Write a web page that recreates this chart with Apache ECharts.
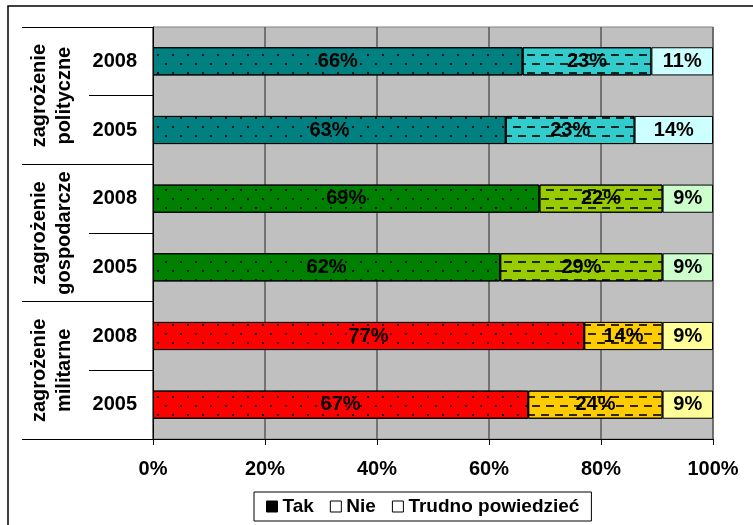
<!DOCTYPE html>
<html>
<head>
<meta charset="utf-8">
<script src="https://cdn.jsdelivr.net/npm/echarts@6/dist/echarts.min.js"></script>
<style>
html,body{margin:0;padding:0;background:#fff;}
#c{width:753px;height:525px;}
</style>
</head>
<body>
<div id="c"></div>
<script>
const years = ['2008', '2005', '2008', '2005', '2008', '2005'];
const groups = ['zagrożenie\npolityczne', 'zagrożenie\ngospodarcze', 'zagrożenie\nmilitarne'];
const seriesNames = ['Tak', 'Nie', 'Trudno powiedzieć'];
const takValues = [66, 63, 69, 62, 77, 67];
const nieValues = [23, 23, 22, 29, 14, 24];
const trudnoValues = [11, 14, 9, 9, 9, 9];
const xTicks = [0, 20, 40, 60, 80, 100];

const takColors = ['#008080', '#008080', '#008000', '#008000', '#FF0000', '#FF0000'];
const nieColors = ['#33CCCC', '#33CCCC', '#99CC00', '#99CC00', '#FFCC00', '#FFCC00'];
const trudnoColors = ['#CCFFFF', '#CCFFFF', '#CCFFCC', '#CCFFCC', '#FFFF99', '#FFFF99'];

const FONT = "'Liberation Sans', Arial, sans-serif";

const dotDecal = {
  symbol: 'rect',
  symbolSize: 1,
  color: 'rgba(0,0,0,0.85)',
  dashArrayX: [[2, 13], [0, 7, 2, 6]],
  dashArrayY: [2, 7],
  rotation: 0
};
const dashDecal = {
  symbol: 'rect',
  symbolSize: 1,
  color: 'rgba(0,0,0,0.8)',
  dashArrayX: [[8, 6], [3, 6, 5, 0]],
  dashArrayY: [2, 7],
  rotation: 0
};

function items(values, colors, decal) {
  return values.map((v, i) => {
    const st = { color: colors[i], borderColor: '#000', borderWidth: 1 };
    if (decal) st.decal = decal;
    return { value: v, itemStyle: st };
  });
}

const labelStyle = {
  show: true,
  position: 'inside',
  formatter: '{c}%',
  color: '#000',
  fontFamily: FONT,
  fontWeight: 'bold',
  fontSize: 20
};

const chart = echarts.init(document.getElementById('c'), null, { renderer: 'canvas' });

chart.setOption({
  animation: false,
  backgroundColor: '#fff',
  textStyle: { fontFamily: FONT },
  grid: {
    left: 153, right: 40, top: 27, bottom: 86,
    show: true, backgroundColor: '#C0C0C0', borderColor: '#808080', borderWidth: 1
  },
  legend: {
    left: 254, top: 492,
    itemWidth: 11, itemHeight: 11, itemGap: 16,
    padding: [5, 12, 5, 12],
    borderColor: '#000', borderWidth: 1,
    textStyle: { fontFamily: FONT, fontWeight: 'bold', fontSize: 19, color: '#000' },
    icon: 'rect',
    data: [
      { name: 'Tak', itemStyle: { color: '#000', borderColor: '#000', borderWidth: 1 } },
      { name: 'Nie', itemStyle: { color: '#fff', borderColor: '#000', borderWidth: 1 } },
      { name: 'Trudno powiedzieć', itemStyle: { color: '#fff', borderColor: '#000', borderWidth: 1 } }
    ]
  },
  xAxis: {
    type: 'value',
    min: xTicks[0], max: xTicks[xTicks.length - 1], interval: 20,
    axisLine: { show: true, lineStyle: { color: '#000', width: 1 } },
    axisTick: { show: true, length: 6, lineStyle: { color: '#000' } },
    axisLabel: {
      formatter: '{value}%', color: '#000', fontFamily: FONT, fontWeight: 'bold', fontSize: 20, margin: 20
    },
    splitLine: { show: true, lineStyle: { color: '#5a5a5a', width: 1.5 } }
  },
  yAxis: [
    {
      type: 'category',
      inverse: true,
      data: years,
      position: 'left',
      axisLine: { show: true, lineStyle: { color: '#000', width: 1 } },
      axisTick: { show: true, interval: 0, length: 64, lineStyle: { color: '#000' } },
      axisLabel: { interval: 0, color: '#000', fontFamily: FONT, fontWeight: 'bold', fontSize: 20, margin: 16 },
      splitLine: { show: false }
    },
    {
      type: 'category',
      inverse: true,
      data: groups,
      position: 'left',
      offset: 0,
      axisLine: { show: false },
      axisTick: { show: true, interval: 0, length: 131, lineStyle: { color: '#000' } },
      axisLabel: {
        interval: 0, hideOverlap: false,
        rotate: 90, color: '#000', fontFamily: FONT, fontWeight: 'bold', fontSize: 20,
        lineHeight: 25, margin: 76, align: 'center'
      },
      splitLine: { show: false }
    }
  ],
  series: [
    {
      name: seriesNames[0], type: 'bar', stack: 'all', yAxisIndex: 0,
      barWidth: '41%',
      itemStyle: { color: '#000' },
      label: labelStyle,
      data: items(takValues, takColors, dotDecal)
    },
    {
      name: seriesNames[1], type: 'bar', stack: 'all', yAxisIndex: 0,
      barWidth: '41%',
      itemStyle: { color: '#fff' },
      label: labelStyle,
      data: items(nieValues, nieColors, dashDecal)
    },
    {
      name: seriesNames[2], type: 'bar', stack: 'all', yAxisIndex: 0,
      barWidth: '41%',
      itemStyle: { color: '#fff' },
      label: labelStyle,
      data: items(trudnoValues, trudnoColors, null)
    }
  ],
  graphic: [
    {
      type: 'rect',
      shape: { x: 8, y: 6, width: 760, height: 540 },
      style: { fill: 'none', stroke: '#000', lineWidth: 1.5 },
      silent: true, z: 100
    }
  ]
});
</script>
</body>
</html>
